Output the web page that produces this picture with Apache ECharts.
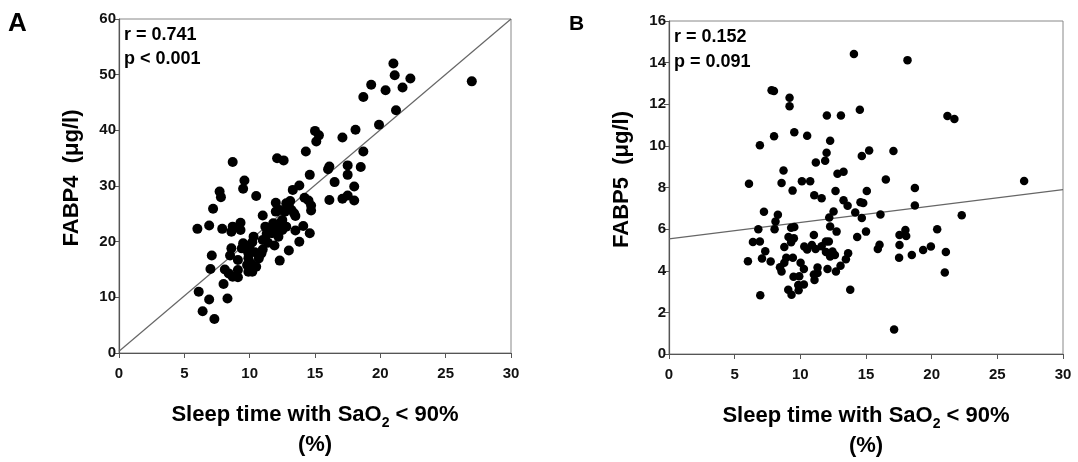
<!DOCTYPE html>
<html>
<head>
<meta charset="utf-8">
<script src="https://cdn.jsdelivr.net/npm/echarts@6/dist/echarts.min.js"></script>
<style>
  html, body { margin: 0; padding: 0; background: #fff; }
  #chart { width: 1078px; height: 462px; }
</style>
</head>
<body>
<div id="chart"></div>
<script>
// FABP4 vs. sleep time with SaO2 < 90% (panel A)
const fabp4Sleep = [27.0, 21.0, 21.1, 22.3, 21.7, 20.4, 19.3, 18.7, 21.2, 19.9, 18.1, 17.1, 15.0, 15.3, 15.1, 14.3, 18.7, 17.5, 18.5, 16.0, 16.1, 14.6, 17.5, 16.5, 18.0, 13.8, 13.3, 13.1, 14.2, 14.5, 14.7, 14.7, 16.1, 17.1, 17.5, 18.0, 12.1, 12.6, 8.7, 9.6, 9.5, 10.5, 7.7, 7.8, 7.2, 6.0, 6.9, 7.9, 8.7, 8.6, 9.3, 9.3, 7.1, 7.0, 6.1, 6.9, 6.4, 7.3, 8.3, 8.0, 8.1, 8.4, 8.7, 9.1, 9.1, 8.6, 8.5, 9.1, 9.4, 9.5, 9.9, 9.8, 9.9, 10.2, 10.1, 10.3, 10.2, 10.5, 10.7, 10.9, 11.0, 11.0, 11.0, 11.2, 11.3, 11.6, 11.8, 12.0, 12.0, 12.1, 11.9, 12.2, 12.3, 12.5, 12.3, 12.5, 12.7, 12.8, 12.3, 13.0, 13.2, 13.4, 13.5, 13.5, 13.8, 14.1, 14.6, 12.8, 13.0, 11.4, 11.7, 9.9, 10.4, 10.0];
const fabp4Level = [48.8, 52.0, 49.9, 49.3, 47.7, 47.2, 48.2, 46.0, 43.6, 41.0, 40.1, 38.7, 39.9, 39.1, 38.0, 36.2, 36.2, 33.7, 33.4, 33.0, 33.5, 32.0, 32.0, 30.7, 29.9, 30.1, 29.3, 27.3, 27.9, 27.4, 26.5, 25.6, 27.5, 27.7, 28.3, 27.4, 35.0, 34.6, 34.3, 31.0, 29.5, 28.2, 29.0, 28.0, 25.9, 22.3, 22.9, 22.3, 22.7, 21.8, 23.4, 22.1, 17.5, 15.1, 11.0, 9.6, 7.5, 6.1, 9.8, 12.4, 15.0, 14.3, 13.7, 13.6, 14.9, 18.8, 17.5, 16.7, 18.8, 19.7, 17.9, 15.8, 14.6, 14.6, 16.1, 20.9, 19.9, 15.5, 17.0, 17.9, 18.6, 20.3, 24.7, 22.7, 21.4, 22.4, 23.3, 25.4, 27.0, 22.1, 19.3, 20.9, 23.3, 22.1, 25.7, 23.9, 25.4, 22.7, 16.6, 18.4, 25.7, 25.1, 24.6, 22.0, 20.0, 22.8, 21.5, 26.9, 26.3, 19.8, 21.5, 17.0, 18.1, 19.3];
const fabp4Fit = [[0, 0.3], [30, 60]];

// FABP5 vs. sleep time with SaO2 < 90% (panel B)
const fabp5Sleep = [14.08, 18.16, 7.81, 7.99, 9.18, 9.18, 14.53, 12.02, 13.09, 21.2, 21.73, 8.0, 6.92, 9.54, 10.52, 12.27, 12.0, 11.89, 11.18, 14.68, 15.24, 17.09, 8.72, 8.57, 9.41, 10.12, 10.75, 6.09, 12.83, 13.29, 12.68, 15.06, 16.51, 18.72, 18.72, 27.04, 11.06, 11.62, 13.29, 13.6, 14.58, 14.79, 12.53, 14.18, 14.68, 12.2, 12.27, 12.76, 15.0, 16.1, 22.29, 20.42, 18.0, 18.06, 17.55, 17.55, 17.52, 18.49, 19.35, 19.94, 21.08, 21.0, 17.14, 16.03, 15.9, 14.33, 7.23, 8.29, 8.11, 8.04, 6.8, 6.39, 6.92, 7.33, 7.08, 6.01, 7.74, 6.95, 9.54, 9.3, 9.1, 9.51, 9.3, 8.78, 8.93, 8.78, 9.43, 8.45, 8.57, 10.02, 10.27, 9.48, 9.92, 9.84, 10.27, 9.87, 9.08, 9.33, 10.3, 10.52, 10.88, 11.03, 11.16, 11.31, 11.03, 11.08, 11.31, 11.62, 11.95, 12.17, 11.95, 12.27, 12.45, 12.63, 12.07, 12.71, 13.06, 13.47, 13.64, 13.8];
const fabp5Level = [14.41, 14.12, 12.67, 12.64, 12.31, 11.9, 11.74, 11.46, 11.46, 11.43, 11.29, 10.46, 10.03, 10.65, 10.49, 10.25, 9.67, 9.28, 9.2, 9.51, 9.78, 9.75, 8.82, 8.22, 7.85, 8.3, 8.3, 8.18, 8.66, 8.76, 7.83, 7.83, 8.38, 7.98, 7.13, 8.31, 7.63, 7.48, 7.39, 7.12, 7.29, 7.25, 6.85, 6.8, 6.54, 6.56, 6.13, 5.88, 5.88, 6.7, 6.67, 5.99, 5.96, 5.67, 5.72, 5.24, 4.62, 4.76, 5.0, 5.16, 4.9, 3.92, 1.18, 5.25, 5.05, 5.62, 6.83, 6.69, 6.37, 6.0, 5.99, 5.38, 5.41, 4.94, 4.59, 4.46, 4.44, 2.82, 6.1, 6.07, 5.62, 5.56, 5.37, 5.14, 4.62, 4.38, 4.63, 4.17, 3.96, 4.38, 4.08, 3.71, 3.74, 3.31, 3.34, 3.06, 3.09, 2.85, 5.17, 5.02, 5.24, 5.72, 5.05, 4.16, 3.82, 3.55, 3.89, 5.18, 5.4, 5.4, 4.9, 4.68, 4.92, 4.76, 4.08, 3.96, 4.24, 4.55, 4.84, 3.09];
const fabp5Fit = [[0, 5.53], [30, 7.9]];

const xTicks = { min: 0, max: 30, interval: 5 };
const yTicksA = { min: 0, max: 60, interval: 10 };
const yTicksB = { min: 0, max: 16, interval: 2 };

const statsA = ['r = 0.741', 'p < 0.001'];
const statsB = ['r = 0.152', 'p = 0.091'];

const zip = (xs, ys) => xs.map((x, i) => [x, ys[i]]);

const FONT = 'Liberation Sans, Arial, sans-serif';

const xName = '{t|Sleep time with SaO}{s|2}{t| < 90%}\n{t|(%)}';
const nameRich = {
  t: { fontFamily: FONT, fontWeight: 'bold', fontSize: 22, lineHeight: 30, color: '#000' },
  s: { fontFamily: FONT, fontWeight: 'bold', fontSize: 14, lineHeight: 30, color: '#000', verticalAlign: 'bottom' }
};

function xAxisFor(gridIndex) {
  return {
    type: 'value', gridIndex, ...xTicks,
    name: xName, nameLocation: 'middle', nameGap: 47,
    nameTextStyle: { rich: nameRich },
    axisLine: { show: true, lineStyle: { color: '#555', width: 1.2 } },
    axisTick: { show: true, length: 5, lineStyle: { color: '#555' } },
    axisLabel: { margin: 13, fontFamily: FONT, fontWeight: 'bold', fontSize: 15, color: '#111' },
    splitLine: { show: false }
  };
}

function yAxisFor(gridIndex, ticks, label) {
  return {
    type: 'value', gridIndex, ...ticks,
    name: label, nameLocation: 'middle', nameGap: 36,
    nameTextStyle: { fontFamily: FONT, fontWeight: 'bold', fontSize: 22, color: '#000', padding: [0, 0, 0, 16] },
    axisLine: { show: true, lineStyle: { color: '#555', width: 1.2 } },
    axisTick: { show: true, length: 5, lineStyle: { color: '#555' } },
    axisLabel: { margin: 3, fontFamily: FONT, fontWeight: 'bold', fontSize: 15, color: '#111' },
    splitLine: { show: false }
  };
}

const chart = echarts.init(document.getElementById('chart'), null, { renderer: 'canvas' });

chart.setOption({
  backgroundColor: '#fff',
  animation: false,
  grid: [
    { left: 119, right: 567, top: 19, bottom: 109, show: true, borderColor: '#888', borderWidth: 1 },
    { left: 669, right: 15, top: 21, bottom: 106, show: true, borderColor: '#888', borderWidth: 1 }
  ],
  xAxis: [xAxisFor(0), xAxisFor(1)],
  yAxis: [yAxisFor(0, yTicksA, 'FABP4  (μg/l)'), yAxisFor(1, yTicksB, 'FABP5  (μg/l)')],
  graphic: [
    { type: 'text', left: 8, top: 11, style: { text: 'A', font: 'bold 26px ' + FONT, fill: '#000' } },
    { type: 'text', left: 569, top: 14, style: { text: 'B', font: 'bold 21px ' + FONT, fill: '#000' } },
    { type: 'text', left: 124, top: 23, style: { text: statsA.join('\n'), font: 'bold 18px ' + FONT, lineHeight: 24, fill: '#000' } },
    { type: 'text', left: 674, top: 25, style: { text: statsB.join('\n'), font: 'bold 18px ' + FONT, lineHeight: 25, fill: '#000' } }
  ],
  series: [
    {
      type: 'line', xAxisIndex: 0, yAxisIndex: 0, data: fabp4Fit,
      showSymbol: false, lineStyle: { color: '#666', width: 1.2 }, z: 1
    },
    {
      type: 'scatter', xAxisIndex: 0, yAxisIndex: 0, data: zip(fabp4Sleep, fabp4Level),
      symbolSize: 10, itemStyle: { color: '#000', opacity: 1 }, z: 2
    },
    {
      type: 'line', xAxisIndex: 1, yAxisIndex: 1, data: fabp5Fit,
      showSymbol: false, lineStyle: { color: '#666', width: 1.2 }, z: 1
    },
    {
      type: 'scatter', xAxisIndex: 1, yAxisIndex: 1, data: zip(fabp5Sleep, fabp5Level),
      symbolSize: 8.5, itemStyle: { color: '#000', opacity: 1 }, z: 2
    }
  ]
});
</script>
</body>
</html>
